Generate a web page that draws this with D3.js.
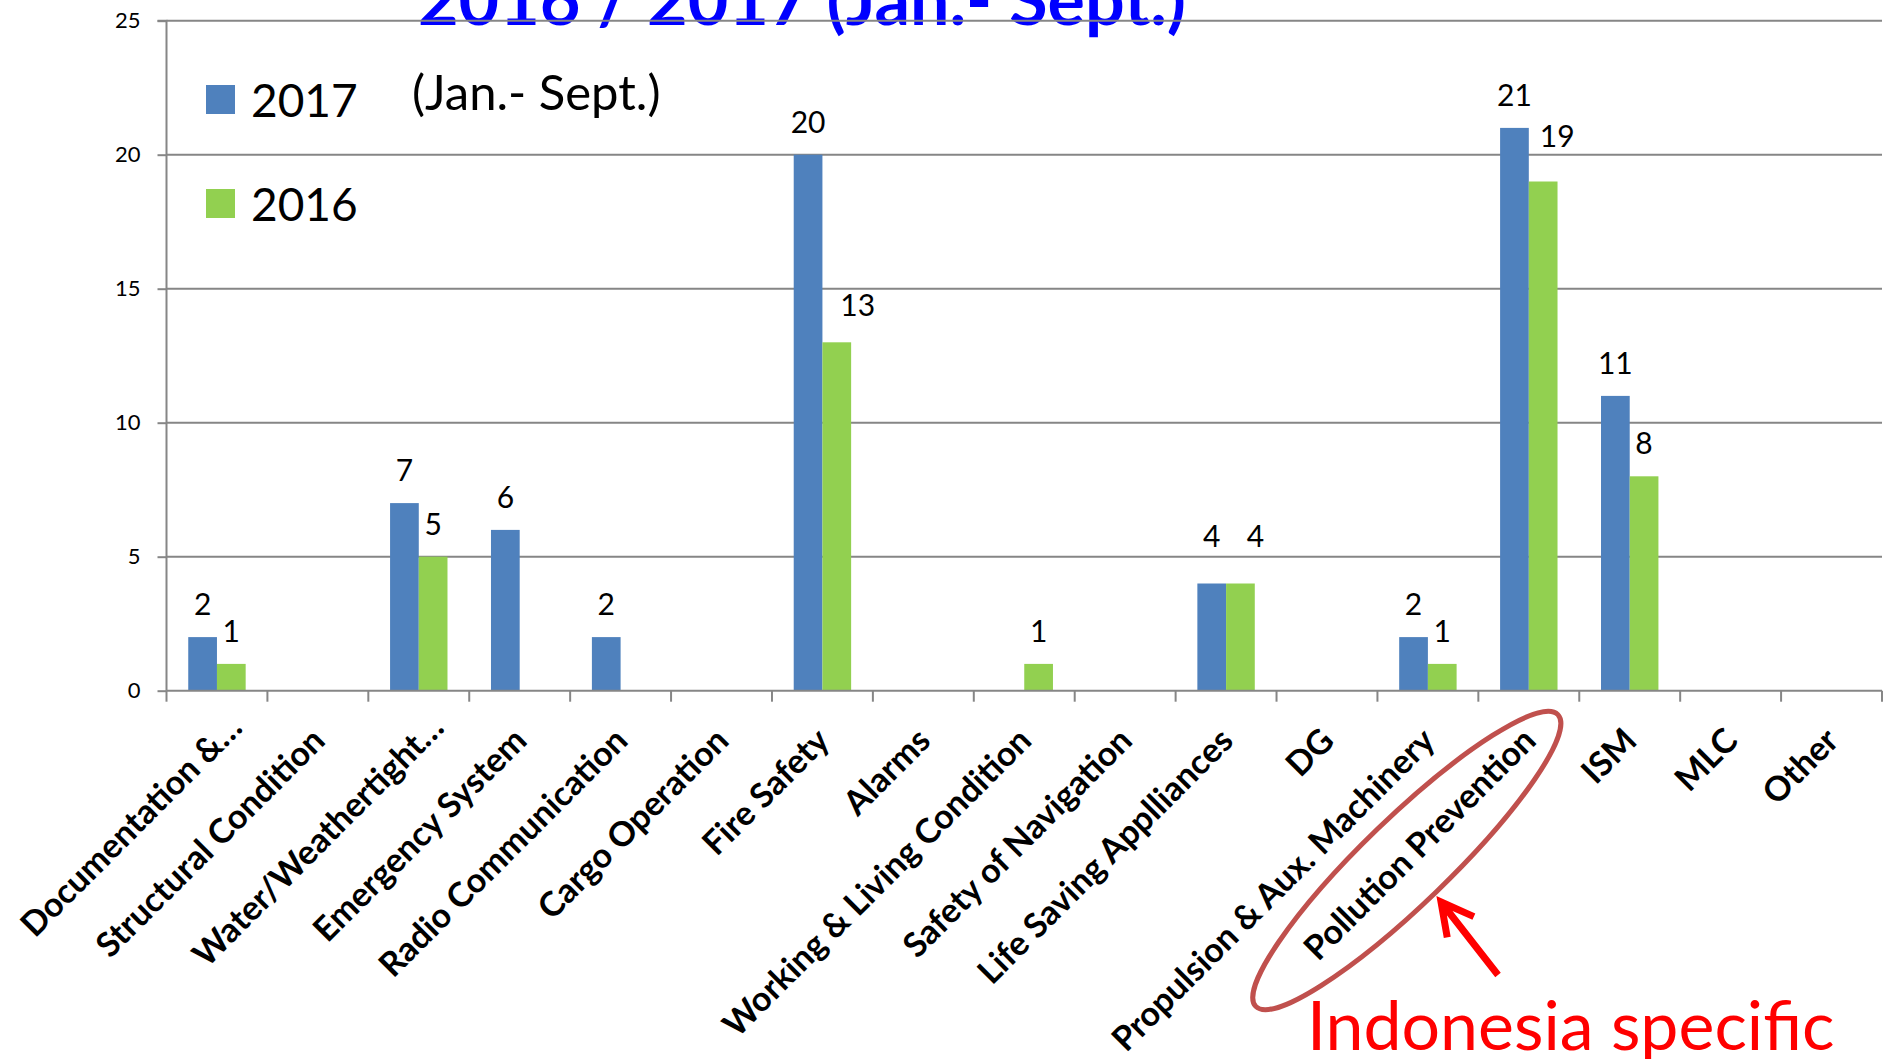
<!DOCTYPE html>
<html>
<head>
<meta charset="utf-8">
<script src="https://cdn.jsdelivr.net/npm/d3@7"></script>
<style>
  html, body { margin: 0; padding: 0; background: #fff; }
  svg { display: block; }
</style>
</head>
<body>
<svg id="chart" width="1887" height="1059"></svg>
<script>
// ---------------- DATA ----------------
const categories = [
  "Documentation &\u2026",
  "Structural Condition",
  "Water/Weathertight\u2026",
  "Emergency System",
  "Radio Communication",
  "Cargo Operation",
  "Fire Safety",
  "Alarms",
  "Working & Living Condition",
  "Safety of Navigation",
  "Life Saving Applliances",
  "DG",
  "Propulsion & Aux. Machinery",
  "Pollution Prevention",
  "ISM",
  "MLC",
  "Other"
];
const seriesNames = ["2017", "2016"];
const values2017 = [2, null, 7, 6, 2, null, 20, null, null, null, 4, null, 2, 21, 11, null, null];
const values2016 = [1, null, 5, null, null, null, 13, null, 1, null, 4, null, 1, 19, 8, null, null];
const yTickValues = [0, 5, 10, 15, 20, 25];
const titleText = "2016  / 2017 (Jan.- Sept.)";
const subtitleText = "(Jan.- Sept.)";
const annotationText = "Indonesia specific";
const highlightedCategory = "Pollution Prevention";

// ---------------- STYLE / LAYOUT ----------------
const colors = { "2017": "#4F81BD", "2016": "#92D050" };
const gridColor = "#868686";
const FONT = "Lato, 'Open Sans', 'DejaVu Sans', sans-serif";
const plot = { left: 166.5, right: 1882, top: 20.7, bottom: 690.7 };
// manual label nudges (as placed in the original)
const labelNudge = {
  "Fire Safety|2016": [21, -4],
  "Pollution Prevention|2016": [14, -13],
  "Life Saving Applliances|2017": [0, -15],
  "Life Saving Applliances|2016": [15, -15]
};

const svg = d3.select("#chart");

const rows = categories.map((c, i) => ({ cat: c, "2017": values2017[i], "2016": values2016[i] }));

const x0 = d3.scaleBand().domain(categories).range([plot.left, plot.right]).paddingInner(0).paddingOuter(0);
const bw = x0.bandwidth();
const x1 = d3.scaleBand().domain(seriesNames).range([bw * 0.2155, bw * 0.7845]).padding(0);
const y = d3.scaleLinear().domain([0, 25]).range([plot.bottom, plot.top]);

// ---------------- TITLE (behind chart lines) ----------------
svg.append("text")
  .attr("x", 418).attr("y", 25)
  .attr("font-family", FONT).attr("font-weight", 700).attr("font-size", 70)
  .attr("fill", "#0000FF")
  .text(titleText);

// ---------------- GRID ----------------
svg.append("g").selectAll("line").data(yTickValues.filter(d => d > 0)).join("line")
  .attr("x1", plot.left).attr("x2", plot.right)
  .attr("y1", d => y(d)).attr("y2", d => y(d))
  .attr("stroke", gridColor).attr("stroke-width", 2);

// ---------------- Y AXIS ----------------
const yAxis = d3.axisLeft(y).tickValues(yTickValues).tickSize(9).tickPadding(17).tickFormat(d3.format("d"));
const gy = svg.append("g").attr("transform", `translate(${plot.left},0)`).call(yAxis);
gy.select(".domain").attr("stroke", gridColor).attr("stroke-width", 2).attr("d", `M-9,${plot.top}H0V${plot.bottom}`);
gy.selectAll(".tick line").attr("stroke", gridColor).attr("stroke-width", 2);
gy.selectAll(".tick text").attr("font-family", FONT).attr("font-size", 22).attr("fill", "#000");

// ---------------- BARS ----------------
const groups = svg.append("g").selectAll("g").data(rows).join("g")
  .attr("transform", d => `translate(${x0(d.cat)},0)`);
groups.selectAll("rect")
  .data(d => seriesNames.map(s => ({ cat: d.cat, key: s, value: d[s] })).filter(e => e.value != null))
  .join("rect")
  .attr("x", d => x1(d.key))
  .attr("width", x1.bandwidth())
  .attr("y", d => y(d.value))
  .attr("height", d => y(0) - y(d.value))
  .attr("fill", d => colors[d.key]);

// data labels
groups.selectAll("text.val")
  .data(d => seriesNames.map(s => ({ cat: d.cat, key: s, value: d[s] })).filter(e => e.value != null))
  .join("text")
  .attr("class", "val")
  .attr("x", d => x1(d.key) + x1.bandwidth() / 2 + ((labelNudge[d.cat + "|" + d.key] || [0, 0])[0]))
  .attr("y", d => y(d.value) - 22 + ((labelNudge[d.cat + "|" + d.key] || [0, 0])[1]))
  .attr("text-anchor", "middle")
  .attr("font-family", FONT).attr("font-size", 30).attr("fill", "#000")
  .text(d => d.value);

// ---------------- X AXIS ----------------
const gx = svg.append("g");
gx.append("line")
  .attr("x1", plot.left).attr("x2", plot.right)
  .attr("y1", plot.bottom).attr("y2", plot.bottom)
  .attr("stroke", gridColor).attr("stroke-width", 2);
const boundaries = categories.map(c => x0(c)).concat([x0.range()[1]]);
gx.selectAll("line.tk").data(boundaries).join("line")
  .attr("class", "tk")
  .attr("x1", d => d).attr("x2", d => d)
  .attr("y1", plot.bottom).attr("y2", plot.bottom + 11)
  .attr("stroke", gridColor).attr("stroke-width", 2);

gx.selectAll("text.cat").data(categories).join("text")
  .attr("class", "cat")
  .attr("transform", d => {
    const cx = x0(d) + bw / 2;
    const trunc = d.endsWith("\u2026");
    const ax = cx + 9 + (trunc ? 18 : 0);
    const ay = plot.bottom + 52 + (trunc ? -13 : 0);
    return `translate(${ax},${ay}) rotate(-45)`;
  })
  .attr("text-anchor", "end")
  .attr("font-family", FONT).attr("font-weight", 700).attr("font-size", 34)
  .attr("fill", "#000")
  .text(d => d);

// ---------------- LEGEND ----------------
const legend = svg.append("g");
seriesNames.forEach((s, i) => {
  const ly = 85 + i * 104;
  legend.append("rect").attr("x", 206).attr("y", ly).attr("width", 29).attr("height", 29).attr("fill", colors[s]);
  legend.append("text").attr("x", 251).attr("y", ly + 32)
    .attr("font-family", FONT).attr("font-size", 46).attr("fill", "#000").text(s);
});
svg.append("text").attr("x", 412).attr("y", 110)
  .attr("font-family", FONT).attr("font-size", 49).attr("fill", "#000").text(subtitleText);

// ---------------- ANNOTATION ----------------
const hc = x0(highlightedCategory) + bw / 2;
svg.append("ellipse")
  .attr("transform", `translate(${hc - 122},860.5) rotate(-44)`)
  .attr("rx", 210).attr("ry", 43)
  .attr("fill", "none").attr("stroke", "#C0504D").attr("stroke-width", 5);

const tail = [1498, 975], tip = [1441, 902];
const ang = Math.atan2(tail[1] - tip[1], tail[0] - tip[0]);
const armLen = 36, spread = 28 * Math.PI / 180;
const arrow = d3.path();
arrow.moveTo(tail[0], tail[1]); arrow.lineTo(tip[0], tip[1]);
arrow.moveTo(tip[0] + armLen * Math.cos(ang - spread), tip[1] + armLen * Math.sin(ang - spread));
arrow.lineTo(tip[0], tip[1]);
arrow.lineTo(tip[0] + armLen * Math.cos(ang + spread), tip[1] + armLen * Math.sin(ang + spread));
svg.append("path").attr("d", arrow.toString())
  .attr("fill", "none").attr("stroke", "#FF0000").attr("stroke-width", 7)
  .attr("stroke-linejoin", "miter").attr("stroke-linecap", "butt");

svg.append("text").attr("x", 1307).attr("y", 1050)
  .attr("font-family", FONT).attr("font-size", 68).attr("fill", "#FF0000")
  .text(annotationText);
</script>
</body>
</html>
